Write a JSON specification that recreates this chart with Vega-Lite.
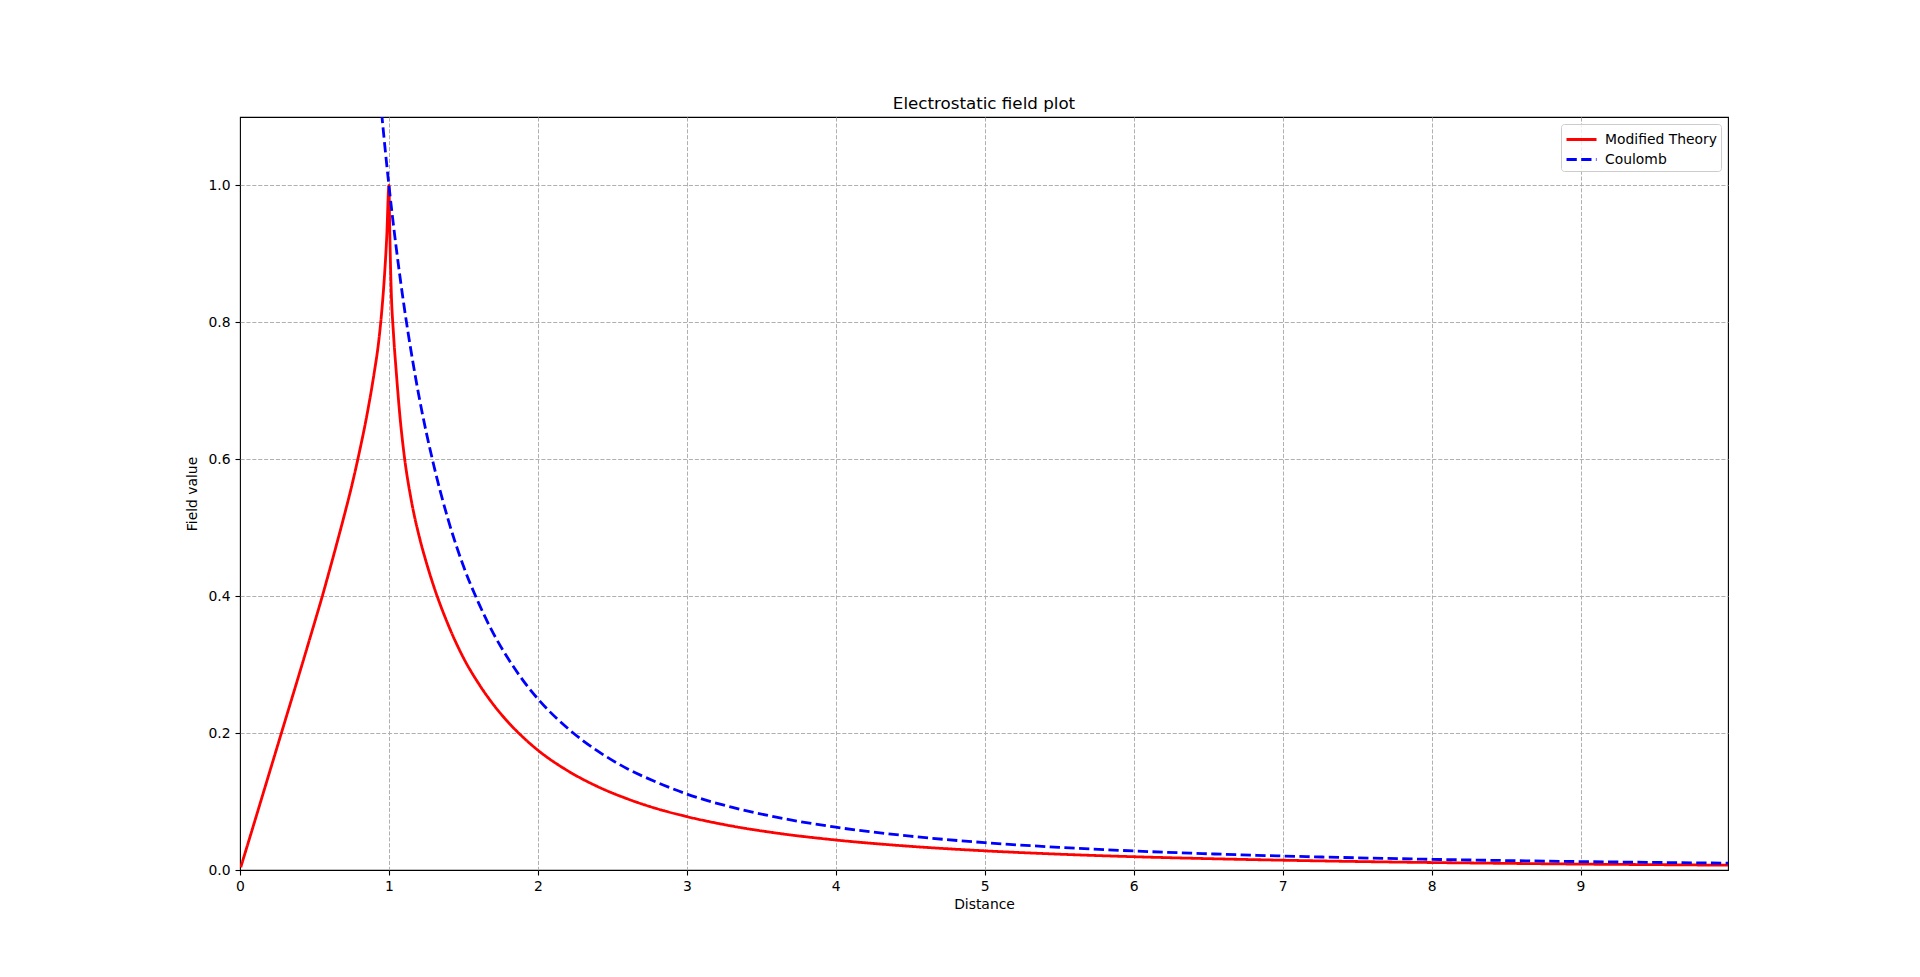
{
  "$schema": "https://vega.github.io/schema/vega-lite/v6.json",
  "width": 1488,
  "height": 753,
  "autosize": {"type": "none"},
  "padding": {"left": 240, "top": 117, "right": 192, "bottom": 107},
  "background": "white",
  "title": {
    "text": "Electrostatic field plot",
    "font": "DejaVu Sans",
    "fontSize": 16.7,
    "fontWeight": "normal",
    "color": "black",
    "anchor": "middle",
    "baseline": "alphabetic",
    "offset": -8.5
  },
  "config": {
    "view": {"stroke": "black", "strokeWidth": 1.1},
    "axis": {
      "domain": false,
      "grid": true,
      "gridColor": {"condition": {"test": "datum.value === 0", "value": "transparent"}, "value": "#b0b0b0"},
      "gridDash": [4.1, 1.8],
      "gridWidth": 1,
      "tickColor": "black",
      "tickSize": 5,
      "tickWidth": 1.1,
      "labelFont": "DejaVu Sans",
      "labelFontSize": 13.9,
      "labelColor": "black",
      "titleFont": "DejaVu Sans",
      "titleFontSize": 13.9,
      "titleFontWeight": "normal",
      "titleColor": "black"
    },
    "legend": {
      "labelFont": "DejaVu Sans",
      "labelFontSize": 13.9,
      "labelColor": "black"
    }
  },
  "data": {
    "values": [
      {"x": 0.005, "y": 0.004, "series": "Modified Theory"},
      {"x": 0.1, "y": 0.072, "series": "Modified Theory"},
      {"x": 0.2, "y": 0.144, "series": "Modified Theory"},
      {"x": 0.3, "y": 0.216, "series": "Modified Theory"},
      {"x": 0.4, "y": 0.288, "series": "Modified Theory"},
      {"x": 0.5, "y": 0.361, "series": "Modified Theory"},
      {"x": 0.55, "y": 0.398, "series": "Modified Theory"},
      {"x": 0.6, "y": 0.437, "series": "Modified Theory"},
      {"x": 0.65, "y": 0.477, "series": "Modified Theory"},
      {"x": 0.7, "y": 0.518, "series": "Modified Theory"},
      {"x": 0.75, "y": 0.561, "series": "Modified Theory"},
      {"x": 0.8, "y": 0.609, "series": "Modified Theory"},
      {"x": 0.85, "y": 0.662, "series": "Modified Theory"},
      {"x": 0.9, "y": 0.725, "series": "Modified Theory"},
      {"x": 0.93, "y": 0.77, "series": "Modified Theory"},
      {"x": 0.95, "y": 0.812, "series": "Modified Theory"},
      {"x": 0.97, "y": 0.868, "series": "Modified Theory"},
      {"x": 0.985, "y": 0.924, "series": "Modified Theory"},
      {"x": 1.0, "y": 1.0, "series": "Modified Theory"},
      {"x": 1.005, "y": 0.94, "series": "Modified Theory"},
      {"x": 1.01, "y": 0.888, "series": "Modified Theory"},
      {"x": 1.016, "y": 0.842, "series": "Modified Theory"},
      {"x": 1.03, "y": 0.785, "series": "Modified Theory"},
      {"x": 1.05, "y": 0.725, "series": "Modified Theory"},
      {"x": 1.075, "y": 0.66, "series": "Modified Theory"},
      {"x": 1.1, "y": 0.61, "series": "Modified Theory"},
      {"x": 1.15, "y": 0.54, "series": "Modified Theory"},
      {"x": 1.2, "y": 0.49, "series": "Modified Theory"},
      {"x": 1.25, "y": 0.45, "series": "Modified Theory"},
      {"x": 1.3, "y": 0.415, "series": "Modified Theory"},
      {"x": 1.4, "y": 0.357, "series": "Modified Theory"},
      {"x": 1.5, "y": 0.31, "series": "Modified Theory"},
      {"x": 1.6, "y": 0.273, "series": "Modified Theory"},
      {"x": 1.7, "y": 0.242, "series": "Modified Theory"},
      {"x": 1.8, "y": 0.216, "series": "Modified Theory"},
      {"x": 1.9, "y": 0.194, "series": "Modified Theory"},
      {"x": 2.0, "y": 0.175, "series": "Modified Theory"},
      {"x": 2.2, "y": 0.145, "series": "Modified Theory"},
      {"x": 2.4, "y": 0.122, "series": "Modified Theory"},
      {"x": 2.6, "y": 0.104, "series": "Modified Theory"},
      {"x": 2.8, "y": 0.0895, "series": "Modified Theory"},
      {"x": 3.0, "y": 0.078, "series": "Modified Theory"},
      {"x": 3.3, "y": 0.0643, "series": "Modified Theory"},
      {"x": 3.6, "y": 0.054, "series": "Modified Theory"},
      {"x": 4.0, "y": 0.0438, "series": "Modified Theory"},
      {"x": 4.5, "y": 0.0346, "series": "Modified Theory"},
      {"x": 5.0, "y": 0.028, "series": "Modified Theory"},
      {"x": 5.5, "y": 0.0231, "series": "Modified Theory"},
      {"x": 6.0, "y": 0.0194, "series": "Modified Theory"},
      {"x": 6.5, "y": 0.0166, "series": "Modified Theory"},
      {"x": 7.0, "y": 0.0143, "series": "Modified Theory"},
      {"x": 7.5, "y": 0.0124, "series": "Modified Theory"},
      {"x": 8.0, "y": 0.0109, "series": "Modified Theory"},
      {"x": 8.5, "y": 0.0097, "series": "Modified Theory"},
      {"x": 9.0, "y": 0.0086, "series": "Modified Theory"},
      {"x": 9.5, "y": 0.0078, "series": "Modified Theory"},
      {"x": 9.99, "y": 0.007, "series": "Modified Theory"},
      {"x": 0.9, "y": 1.2346, "series": "Coulomb"},
      {"x": 0.95, "y": 1.108, "series": "Coulomb"},
      {"x": 1.0, "y": 1.0, "series": "Coulomb"},
      {"x": 1.05, "y": 0.907, "series": "Coulomb"},
      {"x": 1.1, "y": 0.826, "series": "Coulomb"},
      {"x": 1.15, "y": 0.756, "series": "Coulomb"},
      {"x": 1.2, "y": 0.694, "series": "Coulomb"},
      {"x": 1.3, "y": 0.592, "series": "Coulomb"},
      {"x": 1.4, "y": 0.51, "series": "Coulomb"},
      {"x": 1.5, "y": 0.444, "series": "Coulomb"},
      {"x": 1.6, "y": 0.391, "series": "Coulomb"},
      {"x": 1.7, "y": 0.346, "series": "Coulomb"},
      {"x": 1.8, "y": 0.309, "series": "Coulomb"},
      {"x": 1.9, "y": 0.277, "series": "Coulomb"},
      {"x": 2.0, "y": 0.25, "series": "Coulomb"},
      {"x": 2.2, "y": 0.207, "series": "Coulomb"},
      {"x": 2.4, "y": 0.174, "series": "Coulomb"},
      {"x": 2.6, "y": 0.148, "series": "Coulomb"},
      {"x": 2.8, "y": 0.128, "series": "Coulomb"},
      {"x": 3.0, "y": 0.111, "series": "Coulomb"},
      {"x": 3.3, "y": 0.0918, "series": "Coulomb"},
      {"x": 3.6, "y": 0.0772, "series": "Coulomb"},
      {"x": 4.0, "y": 0.0625, "series": "Coulomb"},
      {"x": 4.5, "y": 0.0494, "series": "Coulomb"},
      {"x": 5.0, "y": 0.04, "series": "Coulomb"},
      {"x": 5.5, "y": 0.0331, "series": "Coulomb"},
      {"x": 6.0, "y": 0.0278, "series": "Coulomb"},
      {"x": 6.5, "y": 0.0237, "series": "Coulomb"},
      {"x": 7.0, "y": 0.0204, "series": "Coulomb"},
      {"x": 7.5, "y": 0.0178, "series": "Coulomb"},
      {"x": 8.0, "y": 0.0156, "series": "Coulomb"},
      {"x": 8.5, "y": 0.0138, "series": "Coulomb"},
      {"x": 9.0, "y": 0.0123, "series": "Coulomb"},
      {"x": 9.5, "y": 0.0111, "series": "Coulomb"},
      {"x": 9.99, "y": 0.01, "series": "Coulomb"}
    ]
  },
  "mark": {"type": "line", "clip": true, "strokeWidth": 2.8, "interpolate": "monotone"},
  "encoding": {
    "x": {
      "field": "x",
      "type": "quantitative",
      "title": "Distance",
      "scale": {"domain": [0, 9.99], "nice": false, "zero": false},
      "axis": {"values": [0, 1, 2, 3, 4, 5, 6, 7, 8, 9], "format": "d", "labelPadding": 4, "titlePadding": 5, "labelFlush": false}
    },
    "y": {
      "field": "y",
      "type": "quantitative",
      "title": "Field value",
      "scale": {"domain": [0, 1.1], "nice": false},
      "axis": {"values": [0, 0.2, 0.4, 0.6, 0.8, 1.0], "format": ".1f", "labelPadding": 5, "titlePadding": 8, "labelFlush": false}
    },
    "color": {
      "field": "series",
      "type": "nominal",
      "sort": null,
      "scale": {"domain": ["Modified Theory", "Coulomb"], "range": ["#ff0000", "#0000ff"]},
      "legend": {
        "title": null,
        "orient": "top-right",
        "offset": 7,
        "padding": 4,
        "fillColor": "rgba(255,255,255,0.8)",
        "strokeColor": "#cccccc",
        "cornerRadius": 3,
        "symbolType": "M-1.5,0L1.5,0",
        "symbolSize": 400,
        "symbolStrokeWidth": 2.8,
        "symbolOffset": 5,
        "labelOffset": 12,
        "rowPadding": 1
      }
    },
    "strokeDash": {
      "field": "series",
      "type": "nominal",
      "sort": null,
      "scale": {"domain": ["Modified Theory", "Coulomb"], "range": [[1, 0], [10.3, 4.4]]},
      "legend": {
        "title": null,
        "orient": "top-right",
        "offset": 7,
        "padding": 4,
        "fillColor": "rgba(255,255,255,0.8)",
        "strokeColor": "#cccccc",
        "cornerRadius": 3,
        "symbolType": "M-1.5,0L1.5,0",
        "symbolSize": 400,
        "symbolStrokeWidth": 2.8,
        "symbolOffset": 5,
        "labelOffset": 12,
        "rowPadding": 1
      }
    }
  }
}
